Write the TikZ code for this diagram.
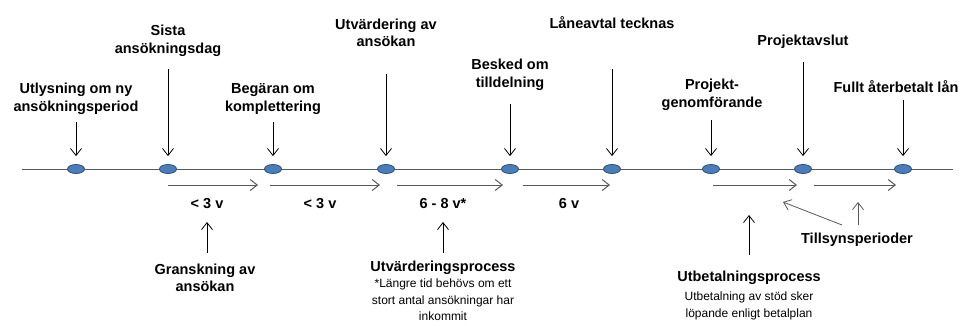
\documentclass[tikz,border=0pt]{standalone}
\usepackage{fontspec}
\setmainfont{Liberation Sans}
\usetikzlibrary{shapes.geometric,arrows.meta}
\definecolor{dotblue}{HTML}{4A7EBB}
\definecolor{dotedge}{HTML}{2C4D75}
\definecolor{flowgray}{HTML}{595959}
\tikzset{
  milestone/.style={ellipse, draw=dotedge, fill=dotblue, line width=0.8pt, minimum width=17pt, minimum height=9pt, inner sep=0pt},
  toplabel/.style={font=\fontsize{14.5}{17.5}\selectfont\bfseries, align=center, inner sep=0pt},
  note/.style={font=\fontsize{12}{16.5}\selectfont, align=center, inner sep=0pt},
  pointer/.style={-{Straight Barb[length=7pt,width=11pt]}, line width=0.8pt},
  span/.style={-{Straight Barb[length=7pt,width=11pt]}, line width=1pt, draw=flowgray},
}
\begin{document}
\begin{tikzpicture}[x=1pt,y=-1pt]
    \useasboundingbox (0,0) rectangle (962,325);
    \draw[line width=0.9pt, flowgray] (22,169) -- (953,169);
    % milestones on the time line
    \foreach \x [count=\i] in {76,168,273,386,510,612,711,803,903}
        \node[milestone] (m\i) at (\x,169) {};
    \node[toplabel] (l1) at (76,99) {Utlysning om ny\\ansökningsperiod};
    \node[toplabel] (l2) at (168,41) {Sista\\ansökningsdag};
    \node[toplabel] (l3) at (273,99) {Begäran om\\komplettering};
    \node[toplabel] (l4) at (386,33) {Utvärdering av\\ansökan};
    \node[toplabel] (l5) at (510,75) {Besked om\\tilldelning};
    \node[toplabel] (l6) at (612,23) {Låneavtal tecknas};
    \node[toplabel] (l7) at (712,95) {Projekt-\\genomförande};
    \node[toplabel] (l8) at (803,42) {Projektavslut};
    \node[toplabel] (l9) at (896,87) {Fullt återbetalt lån};
    \foreach \i/\ys in {1/122,2/69,3/122,4/74,5/104,6/69,7/120,8/62,9/100}
        \draw[pointer, shorten >=8pt] (m\i |- 0,\ys) -- (m\i);
    % durations
    \foreach \a/\b in {168/258,270/380,397/503,523/610,713/797,814/896}
        \draw[span] (\a,185) -- (\b,185);
    \node[toplabel] (d1) at (207,204) {< 3 v};
    \node[toplabel] (d2) at (320,204) {< 3 v};
    \node[toplabel] (d3) at (443,204) {6 - 8 v*};
    \node[toplabel] (d4) at (569,204) {6 v};
    % processes below
    \node[toplabel] (p1) at (205,278) {Granskning av\\ansökan};
    \draw[pointer] (d1 |- 0,253) -- (d1 |- 0,222);
    \node[toplabel] (p2) at (443,268) {Utvärderingsprocess};
    \node[note] (p2n) at (443,300) {*Längre tid behövs om ett\\stort antal ansökningar har\\inkommit};
    \draw[pointer] (d3 |- 0,253) -- (d3 |- 0,222);
    \node[toplabel] (p3) at (749,278) {Utbetalningsprocess};
    \node[note] (p3n) at (749,306) {Utbetalning av stöd sker\\löpande enligt betalplan};
    \draw[pointer] (p3 |- 0,255) -- (p3 |- 0,215);
    \node[toplabel] (p4) at (857,240) {Tillsynsperioder};
    \draw[pointer, flowgray] (858,225) -- (858,202);
    \draw[pointer, flowgray] (842,225) -- (783,202);
\end{tikzpicture}
\end{document}
